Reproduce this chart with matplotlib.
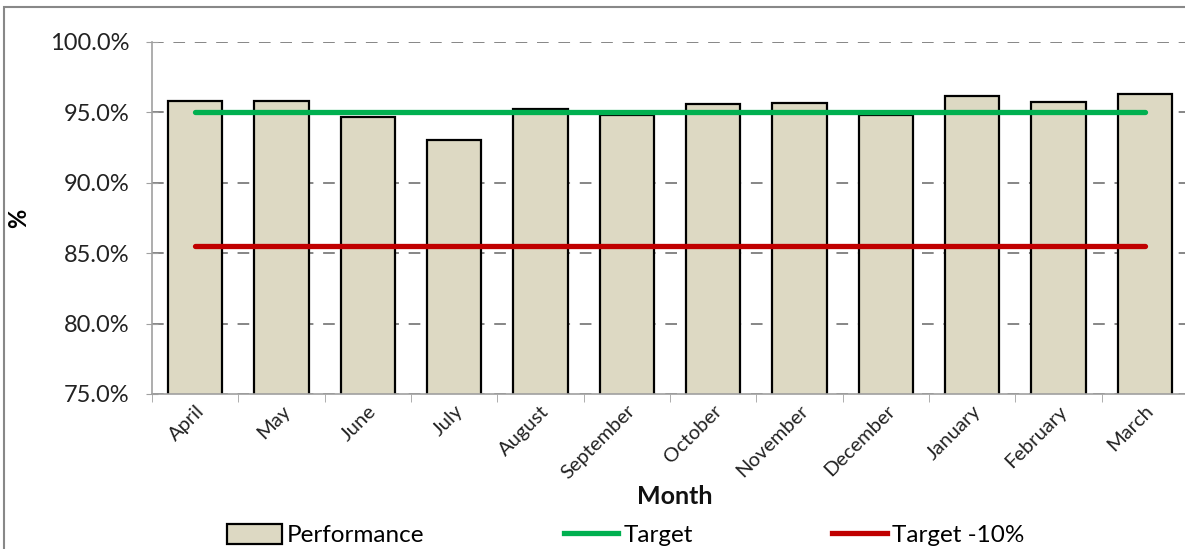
import numpy as np
import matplotlib.pyplot as plt
from matplotlib.patches import Rectangle
from matplotlib.lines import Line2D

# %% Data
months = ['April', 'May', 'June', 'July', 'August', 'September', 'October',
          'November', 'December', 'January', 'February', 'March']
performance = [95.83, 95.83, 94.65, 93.02, 95.22, 94.82, 95.58,
               95.67, 94.82, 96.16, 95.76, 96.31]  # %
target = [95.0] * 12
target_10 = [85.5] * 12
yticks = [75, 80, 85, 90, 95, 100]

# %% Plotting
plt.rcParams['font.family'] = ['Lato', 'DejaVu Sans']
fig = plt.figure(figsize=(11.85, 5.49), dpi=100)
ax = fig.add_axes([152 / 1185, 1 - 394 / 549, (1188 - 152) / 1185, (394 - 42) / 549])

x = np.arange(len(months))
ax.bar(x, performance, width=0.63, color='#DDD9C3', edgecolor='black', linewidth=1.6,
       zorder=2, label='Performance')
ax.plot(x, target, color='#00B050', lw=3.8, solid_capstyle='round', zorder=3, label='Target')
ax.plot(x, target_10, color='#C00000', lw=3.8, solid_capstyle='round', zorder=3, label='Target -10%')

ax.set_xlim(-0.5, len(months) - 0.5)
ax.set_ylim(75, 100)
ax.set_yticks(yticks)
ax.set_yticklabels([f'{v:.1f}%' for v in yticks], fontsize=17, color='#222222')
ax.yaxis.grid(True, color='#868686', linestyle=(0, (6, 5)), lw=1.4, zorder=1)
ax.set_axisbelow(True)

ax.set_xticks(x)
ax.set_xticklabels(months, rotation=45, ha='right', rotation_mode='anchor',
                   fontsize=14.5, color='#222222')
ax.set_xticks(np.arange(-0.5, len(months)), minor=True)
ax.tick_params(axis='x', which='major', length=0, pad=6)
ax.tick_params(axis='x', which='minor', length=6, color='#A0A0A0', direction='out')
ax.tick_params(axis='y', length=9, color='#A0A0A0', direction='inout', pad=12)

for s in ['top', 'right']:
    ax.spines[s].set_visible(False)
for s in ['left', 'bottom']:
    ax.spines[s].set_color('#A0A0A0')
    ax.spines[s].set_linewidth(1.2)

ax.set_ylabel('%', fontsize=17, fontweight='bold')
ax.yaxis.set_label_coords(-122 / 1036, 0.5)
fig.text(675 / 1185, 1 - 496 / 549, 'Month', fontsize=18, fontweight='bold',
         ha='center', va='center', color='#111111')

handles = [Rectangle((0, 0), 1, 1, facecolor='#DDD9C3', edgecolor='black', lw=1.6),
           Line2D([], [], color='#00B050', lw=3.8),
           Line2D([], [], color='#C00000', lw=3.8)]
fig.legend(handles, ['Performance', 'Target', 'Target -10%'], ncol=3,
           loc='center left', bbox_to_anchor=(227 / 1185, 1 - 535 / 549),
           frameon=False, fontsize=17.5, handlelength=2.25, handleheight=0.9,
           handletextpad=0.2, columnspacing=5.75, borderpad=0, borderaxespad=0)

# outer chart frame
fig.add_artist(Rectangle((4 / 1185, -0.1), 1.2, 1 - 7 / 549 + 0.1, transform=fig.transFigure,
                         fill=False, edgecolor='#888888', lw=1.5))

fig.savefig('out.png', dpi=100)
